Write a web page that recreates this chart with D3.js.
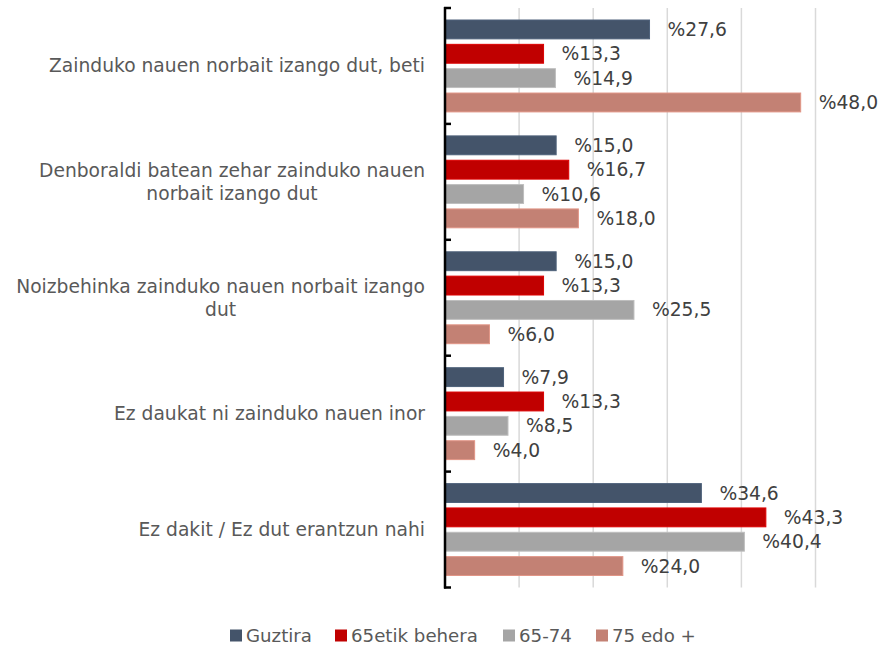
<!DOCTYPE html>
<html>
<head>
<meta charset="utf-8">
<script src="https://cdn.jsdelivr.net/npm/d3@7"></script>
<style>
  html, body { margin: 0; padding: 0; background: #fff; }
  svg { display: block; }
  text { font-family: "DejaVu Sans", Verdana, sans-serif; }
</style>
</head>
<body>
<svg id="chart" width="887" height="648"></svg>
<script>
const categories = [
  "Zainduko nauen norbait izango dut, beti",
  "Denboraldi batean zehar zainduko nauen norbait izango dut",
  "Noizbehinka zainduko nauen norbait izango dut",
  "Ez daukat ni zainduko nauen inor",
  "Ez dakit / Ez dut erantzun nahi"
];
const seriesNames = ["Guztira", "65etik behera", "65-74", "75 edo +"];
const guztira   = [27.6, 15.0, 15.0, 7.9, 34.6];
const behera65  = [13.3, 16.7, 13.3, 13.3, 43.3];
const adina6574 = [14.9, 10.6, 25.5, 8.5, 40.4];
const adina75   = [48.0, 18.0, 6.0, 4.0, 24.0];
const seriesValues = [guztira, behera65, adina6574, adina75];
const colors = ["#44546A", "#C00000", "#A5A5A5", "#C38174"];
const gridTicks = [10, 20, 30, 40, 50];

const svg = d3.select("#chart");
const x0 = 445, x1 = 815.5, yTop = 8, yBot = 587.5;
const fs = 18.7;

const x = d3.scaleLinear().domain([0, 50]).range([x0, x1]);
const y = d3.scaleBand().domain(categories).range([yTop, yBot]).padding(0);
const bw = y.bandwidth();
const inner = d3.scaleBand().domain(seriesNames).range([12, bw - 12]).paddingInner(0.225);

// gridlines
svg.append("g").selectAll("line").data(gridTicks).join("line")
  .attr("x1", d => x(d)).attr("x2", d => x(d))
  .attr("y1", yTop).attr("y2", yBot)
  .attr("stroke", "#D9D9D9").attr("stroke-width", 1.5);

// bars
const groups = svg.append("g").selectAll("g").data(categories).join("g")
  .attr("transform", d => `translate(0,${y(d)})`);

groups.each(function(cat, ci) {
  const g = d3.select(this);
  seriesNames.forEach((s, si) => {
    const v = seriesValues[si][ci];
    g.append("rect")
      .attr("x", x(0)).attr("y", inner(s))
      .attr("width", x(v) - x(0)).attr("height", inner.bandwidth())
      .attr("fill", colors[si])
      .attr("stroke", d3.color(colors[si]).brighter(0.4)).attr("stroke-width", 1);
    g.append("text")
      .attr("x", x(v) + 18).attr("y", inner(s) + inner.bandwidth() / 2)
      .attr("dy", "0.35em")
      .attr("font-size", fs).attr("fill", "#404040")
      .text("%" + v.toFixed(1).replace(".", ","));
  });
});

// axis
const axisG = svg.append("g");
axisG.append("line").attr("x1", x0).attr("x2", x0).attr("y1", yTop - 1).attr("y2", yBot + 1)
  .attr("stroke", "#000").attr("stroke-width", 2.5);
const bounds = categories.map(c => y(c)).concat([yBot]);
axisG.selectAll("line.tick").data(bounds).join("line").attr("class", "tick")
  .attr("x1", x0 - 1).attr("x2", x0 + 6).attr("y1", d => d).attr("y2", d => d)
  .attr("stroke", "#000").attr("stroke-width", 2.5);

// category labels with wrapping
const maxW = 412, lineH = 23, rightEdge = 425;
categories.forEach(cat => {
  const t = svg.append("text").attr("font-size", fs).attr("fill", "#595959")
    .attr("text-anchor", "middle");
  const words = cat.split(" ");
  const lines = [];
  let cur = [];
  const probe = svg.append("text").attr("font-size", fs);
  words.forEach(w => {
    const test = cur.concat([w]).join(" ");
    probe.text(test);
    if (probe.node().getComputedTextLength() > maxW && cur.length) {
      lines.push(cur.join(" "));
      cur = [w];
    } else cur.push(w);
  });
  lines.push(cur.join(" "));
  let widest = 0;
  lines.forEach(l => { probe.text(l); widest = Math.max(widest, probe.node().getComputedTextLength()); });
  probe.remove();
  const cx = rightEdge - widest / 2;
  const cy = y(cat) + bw / 2;
  lines.forEach((l, i) => {
    t.append("tspan").attr("x", cx)
      .attr("y", cy + (i - (lines.length - 1) / 2) * lineH)
      .attr("dy", "0.35em").text(l);
  });
});

// legend
const legendX = [230, 335, 503, 596];
const leg = svg.append("g");
seriesNames.forEach((s, i) => {
  leg.append("rect").attr("x", legendX[i]).attr("y", 629.5)
    .attr("width", 12).attr("height", 12).attr("fill", colors[i]);
  leg.append("text").attr("x", legendX[i] + 16).attr("y", 635.5).attr("dy", "0.35em")
    .attr("font-size", 18.2).attr("fill", "#595959").text(s);
});
</script>
</body>
</html>
